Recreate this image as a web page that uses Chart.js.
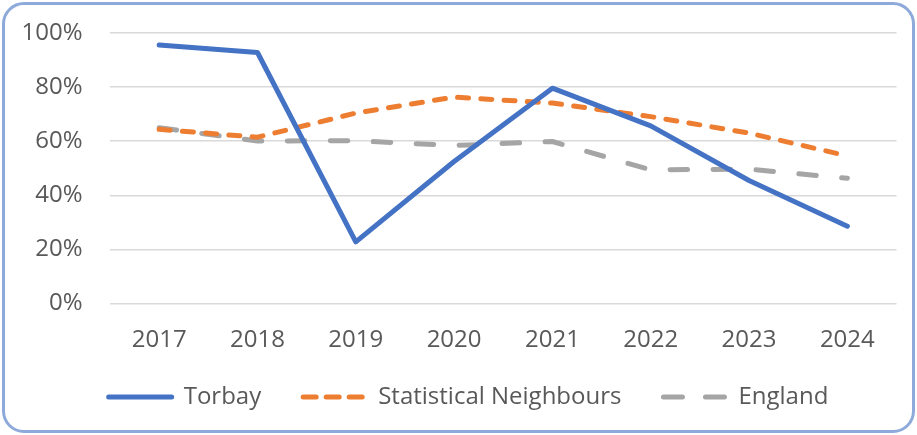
<!DOCTYPE html>
<html>
<head>
<meta charset="utf-8">
<script src="https://cdn.jsdelivr.net/npm/chart.js@4/dist/chart.umd.min.js"></script>
<style>
  html, body { margin: 0; padding: 0; background: #ffffff; }
  #wrap { position: relative; width: 917px; height: 435px; overflow: hidden; background: #fff; }
  #frame { position: absolute; left: 2px; top: 2px; width: 913px; height: 431px; box-sizing: border-box;
           border: 3px solid #8eaadb; border-radius: 22px; }
  #c { position: absolute; left: 0; top: 0; }
</style>
</head>
<body>
<div id="wrap">
  <div id="frame"></div>
  <canvas id="c" width="917" height="435"></canvas>
</div>
<script>
const years = ['2017', '2018', '2019', '2020', '2021', '2022', '2023', '2024'];
const torbay = [95.6, 92.8, 22.8, 52.5, 79.6, 65.7, 45.5, 28.6];
const statNeighbours = [64.4, 61.5, 70.4, 76.3, 74.1, 69.1, 63.0, 54.6];
const england = [65.0, 60.1, 60.2, 58.4, 59.9, 49.4, 49.7, 46.3];
const yTicks = [0, 20, 40, 60, 80, 100];

Chart.defaults.font.family = "'Open Sans', 'DejaVu Sans', sans-serif";
Chart.defaults.font.size = 24;
Chart.defaults.color = '#595959';

const chart = new Chart(document.getElementById('c'), {
  type: 'line',
  data: {
    labels: years,
    datasets: [
      { label: 'Torbay', data: torbay, borderColor: '#4472c4', backgroundColor: '#4472c4',
        borderWidth: 5, borderCapStyle: 'round', borderJoinStyle: 'round', pointRadius: 0, tension: 0,
        legendDash: [] },
      { label: 'Statistical Neighbours', data: statNeighbours, borderColor: '#ed7d31', backgroundColor: '#ed7d31',
        borderWidth: 5, borderDash: [11, 12.3], borderCapStyle: 'round', borderJoinStyle: 'round', pointRadius: 0, tension: 0,
        legendDash: [13, 10] },
      { label: 'England', data: england, borderColor: '#a5a5a5', backgroundColor: '#a5a5a5',
        borderWidth: 5, borderDash: [17.5, 25.5], borderCapStyle: 'round', borderJoinStyle: 'round', pointRadius: 0, tension: 0,
        legendDash: [19, 23] }
    ]
  },
  options: {
    responsive: false,
    animation: false,
    devicePixelRatio: 1,
    layout: { padding: { left: 20, right: 0, top: 33, bottom: 16 } },
    plugins: {
      tooltip: { enabled: false },
      legend: {
        position: 'bottom',
        labels: {
          usePointStyle: true,
          pointStyle: 'line',
          pointStyleWidth: 63,
          padding: 42,
          color: '#595959',
          font: { size: 24 },
          generateLabels: (ch) => {
            const items = Chart.defaults.plugins.legend.labels.generateLabels(ch);
            items.forEach((it) => {
              const ds = ch.data.datasets[it.datasetIndex];
              it.lineDash = ds.legendDash;
              it.lineCap = 'round';
              it.lineWidth = ds.borderWidth;
              it.strokeStyle = ds.borderColor;
              it.fillStyle = ds.borderColor;
              it.pointStyle = 'line';
            });
            return items;
          }
        }
      }
    },
    scales: {
      x: {
        offset: true,
        grid: { display: false, drawTicks: false, offset: true },
        border: { display: false },
        ticks: { mirror: true, padding: -51, color: '#595959', font: { size: 24 } },
        afterFit: (s) => { s.height = 39.4; }
      },
      y: {
        min: 0, max: 100,
        grid: { color: '#d9d9d9', lineWidth: 1.5, drawTicks: false },
        border: { display: false },
        afterBuildTicks: (s) => { s.ticks = yTicks.map(v => ({ value: v })); },
        ticks: { mirror: true, crossAlign: 'far', padding: -88.5, color: '#595959', font: { size: 24 }, callback: (v) => v + '%' },
        afterFit: (s) => { s.width = 90; }
      },
      yRightSpace: {
        position: 'right',
        min: 0, max: 100,
        grid: { display: false, drawTicks: false },
        border: { display: false },
        ticks: { display: false },
        afterFit: (s) => { s.width = 20.5; }
      }
    }
  }
});
</script>
</body>
</html>
